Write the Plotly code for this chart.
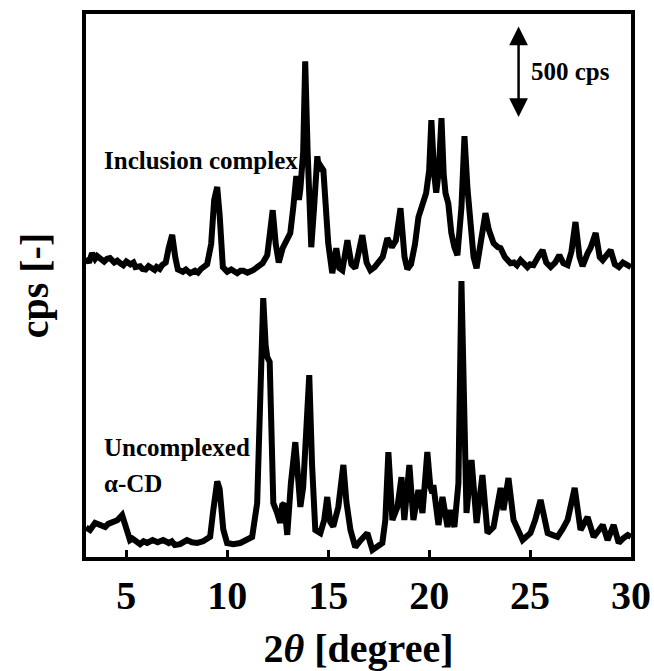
import plotly.graph_objects as go

# XRD pattern of the inclusion complex (intensity above its own baseline, cps)
THETA_COMPLEX = [
    3.00, 3.15, 3.30, 3.45, 3.55, 3.69, 3.90, 4.05, 4.19, 4.40, 4.55, 4.70, 4.85,
    5.00, 5.20, 5.35, 5.45, 5.68, 5.80, 5.95, 6.10, 6.27, 6.40, 6.50, 6.65, 6.77,
    6.95, 7.10, 7.27, 7.42, 7.55, 7.80, 7.95, 8.16, 8.40, 8.55, 8.70, 9.00, 9.20,
    9.35, 9.50, 9.62, 9.78, 10.00, 10.20, 10.49, 10.65, 10.80, 11.00, 11.28, 11.45,
    11.60, 11.75, 11.98, 12.13, 12.25, 12.40, 12.55, 12.75, 12.95, 13.12, 13.27,
    13.42, 13.55, 13.62, 13.76, 13.86, 13.98, 14.10, 14.16, 14.30, 14.46, 14.55,
    14.65, 14.76, 14.90, 15.00, 15.20, 15.40, 15.55, 15.70, 15.95, 16.15, 16.34,
    16.69, 16.90, 17.09, 17.30, 17.48, 17.70, 17.93, 18.15, 18.35, 18.58, 18.78,
    18.92, 19.10, 19.30, 19.47, 19.70, 19.85, 20.00, 20.11, 20.25, 20.35, 20.48,
    20.61, 20.72, 20.81, 20.95, 21.10, 21.25, 21.40, 21.60, 21.75, 21.90, 22.05,
    22.20, 22.35, 22.55, 22.79, 22.95, 23.19, 23.40, 23.54, 23.75, 23.90, 24.03,
    24.20, 24.35, 24.53, 24.70, 24.87, 25.00, 25.17, 25.45, 25.62, 25.80, 26.02,
    26.25, 26.45, 26.65, 26.86, 27.05, 27.25, 27.45, 27.60, 27.85, 28.00, 28.25,
    28.45, 28.60, 28.84, 28.99, 29.20, 29.40, 29.60, 29.80, 30.00,
]
CPS_COMPLEX = [
    325, 300, 351, 320, 335, 324, 305, 320, 324, 300, 310, 296, 285,
    305, 290, 300, 275, 280, 265, 262, 280, 269, 260, 275, 265, 286,
    300, 380, 450, 330, 262, 250, 262, 242, 255, 245, 265, 290, 400,
    640, 710, 560, 275, 250, 262, 242, 255, 255, 245, 258, 270,
    280, 296, 340, 480, 584, 400, 300, 380, 420, 459, 600,
    769, 640, 700, 900, 1393, 900, 450, 383, 600, 877, 800,
    820, 801, 550, 405, 242, 378, 270, 258, 421, 290, 269,
    448, 300, 258, 275, 296, 330, 432, 383, 420, 595, 330,
    264, 290, 400, 546, 620, 677, 800, 1073, 780, 680, 800,
    1084, 780, 677, 620, 460, 383, 340, 600, 986, 700, 459,
    330, 269, 400, 568, 480, 405, 383, 378, 330, 310, 296,
    300, 285, 313, 296, 275, 290, 286, 340, 367, 300, 275,
    300, 340, 296, 286, 360, 520, 330, 280, 350, 380, 460,
    330, 313, 340, 367, 290, 275, 300, 290, 275,
]
COMPLEX_OFFSET = 1300  # vertical shift of the upper pattern

# XRD pattern of uncomplexed alpha-cyclodextrin (cps)
THETA_ACD = [
    3.00, 3.20, 3.45, 3.69, 3.95, 4.10, 4.29, 4.55, 4.79, 4.95, 5.18, 5.30, 5.45,
    5.68, 5.85, 6.03, 6.30, 6.55, 6.82, 7.10, 7.25, 7.40, 7.66, 8.00, 8.25, 8.51,
    8.80, 9.00, 9.15, 9.30, 9.50, 9.62, 9.80, 9.99, 10.30, 10.64, 10.85, 11.00,
    11.23, 11.48, 11.65, 11.78, 11.90, 11.98, 12.10, 12.20, 12.28, 12.47, 12.62,
    12.72, 12.82, 12.97, 13.15, 13.37, 13.55, 13.62, 13.76, 13.95, 14.06, 14.20,
    14.36, 14.61, 14.80, 14.95, 15.10, 15.25, 15.50, 15.75, 15.90, 16.10, 16.34,
    16.60, 16.94, 17.19, 17.45, 17.68, 17.83, 17.98, 18.18, 18.43, 18.63, 18.77,
    19.02, 19.22, 19.47, 19.67, 19.91, 20.06, 20.16, 20.21, 20.46, 20.66, 20.91,
    21.06, 21.25, 21.45, 21.60, 21.72, 21.85, 22.10, 22.35, 22.64, 22.89, 23.19,
    23.54, 23.68, 23.93, 24.18, 24.40, 24.63, 25.02, 25.25, 25.52, 25.75, 25.87,
    26.10, 26.36, 26.60, 26.86, 27.21, 27.40, 27.50, 27.85, 28.15, 28.60, 28.84,
    29.14, 29.39, 29.60, 29.84, 30.00,
]
CPS_ACD = [
    160, 147, 185, 174, 163, 180, 185, 200, 228, 170, 92, 100, 85,
    70, 85, 76, 92, 80, 92, 76, 85, 65, 70, 92, 80, 76,
    85, 100, 110, 250, 410, 370, 150, 76, 70, 76, 85, 100,
    109, 293, 900, 1406, 1150, 1086, 1060, 600, 293, 239, 185,
    282, 290, 120, 400, 624, 300, 272, 380, 700, 988, 500,
    147, 130, 200, 326, 190, 165, 272, 500, 300, 147, 54,
    90, 130, 38, 60, 76, 201, 570, 201, 272, 434, 201,
    500, 201, 364, 239, 570, 380, 348, 391, 174, 326, 163,
    255, 163, 400, 1499, 700, 239, 527, 185, 445, 130, 163,
    375, 255, 429, 201, 150, 92, 130, 200, 310, 160, 130,
    120, 109, 150, 201, 375, 200, 147, 217, 109, 174, 92,
    174, 76, 100, 119, 110,
]

X_TICKS = [5, 10, 15, 20, 25, 30]
SCALE_BAR_CPS = 500
SCALE_BAR_TOP = 2890
SCALE_BAR_THETA = 24.43

SERIF = "Liberation Serif, Times New Roman, serif"
LINE = dict(color="black", width=6)

fig = go.Figure()
fig.add_trace(go.Scatter(
    x=THETA_COMPLEX,
    y=[v + COMPLEX_OFFSET for v in CPS_COMPLEX],
    mode="lines", line=LINE, name="Inclusion complex",
    showlegend=False, hoverinfo="skip",
))
fig.add_trace(go.Scatter(
    x=THETA_ACD, y=CPS_ACD,
    mode="lines", line=LINE, name="Uncomplexed α-CD",
    showlegend=False, hoverinfo="skip",
))

label_font = dict(family=SERIF, size=25, color="black", weight="bold")

fig.add_annotation(x=3.79, y=2156, text="Inclusion complex", showarrow=False,
                   xanchor="left", yanchor="middle", font=label_font)
fig.add_annotation(x=3.79, y=597, text="Uncomplexed", showarrow=False,
                   xanchor="left", yanchor="middle", font=label_font)
fig.add_annotation(x=3.79, y=402, text="α-CD", showarrow=False,
                   xanchor="left", yanchor="middle", font=label_font)

# double-headed scale bar for the intensity axis
fig.add_annotation(
    x=SCALE_BAR_THETA, y=SCALE_BAR_TOP - SCALE_BAR_CPS,
    ax=SCALE_BAR_THETA, ay=SCALE_BAR_TOP,
    xref="x", yref="y", axref="x", ayref="y",
    showarrow=True, arrowhead=2, arrowside="end+start",
    arrowsize=1.5, arrowwidth=2.5, arrowcolor="black", text="",
)
fig.add_annotation(x=24.97, y=SCALE_BAR_TOP - SCALE_BAR_CPS / 2,
                   text=f"{SCALE_BAR_CPS} cps", showarrow=False,
                   xanchor="left", yanchor="middle", font=label_font)

axis_font = dict(family=SERIF, size=40, color="black", weight="bold")

fig.update_xaxes(
    range=[3, 30], tickvals=X_TICKS, ticktext=[str(t) for t in X_TICKS],
    ticks="inside", ticklen=7, tickwidth=3, tickcolor="black",
    showline=True, linewidth=4, linecolor="black", mirror=True,
    showgrid=False, zeroline=False, tickfont=axis_font, automargin=False,
    title=dict(text="2<i>θ</i> [degree]", font=axis_font, standoff=20),
)
fig.update_yaxes(
    range=[0, 2950], showticklabels=False, ticks="",
    showline=True, linewidth=4, linecolor="black", mirror=True,
    showgrid=False, zeroline=False, automargin=False,
    title=dict(text="cps [-]", font=axis_font, standoff=22),
)

fig.update_layout(
    width=654, height=671,
    margin=dict(l=86, r=23, t=14, b=114),
    paper_bgcolor="white", plot_bgcolor="white",
)

fig.write_html("out.html")
